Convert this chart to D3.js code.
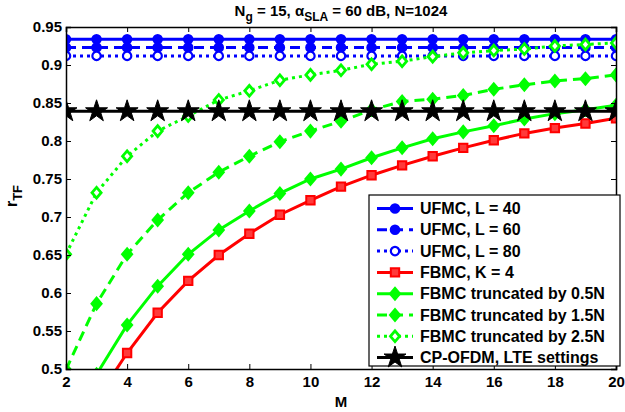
<!DOCTYPE html>
<html>
<head>
<meta charset="utf-8">
<script src="https://cdn.jsdelivr.net/npm/d3@7"></script>
<style>
  body { margin: 0; background: #fff; }
  text { font-family: "Liberation Sans", Arial, sans-serif; font-weight: bold; }
</style>
</head>
<body>
<div id="chart"></div>
<script>
// x values
const M = d3.range(2, 21);

// series values
const ufmc40 = M.map(() => 0.934);
const ufmc60 = M.map(() => 0.923);
const ufmc80 = M.map(() => 0.912);
const cpofdm = M.map(() => 0.839);
const fbmcK4 = [0.38, 0.46, 0.521, 0.574, 0.616, 0.65, 0.678, 0.703, 0.722, 0.74, 0.755, 0.768, 0.78, 0.791, 0.801, 0.81, 0.817, 0.823, 0.83];
const trunc05 = [0.41, 0.493, 0.558, 0.609, 0.651, 0.683, 0.708, 0.731, 0.75, 0.763, 0.778, 0.791, 0.803, 0.812, 0.82, 0.829, 0.836, 0.841, 0.847];
const trunc15 = [0.499, 0.586, 0.651, 0.696, 0.732, 0.759, 0.78, 0.799, 0.813, 0.826, 0.841, 0.852, 0.855, 0.86, 0.868, 0.874, 0.879, 0.882, 0.887];
const trunc25 = [0.651, 0.732, 0.78, 0.813, 0.833, 0.854, 0.866, 0.88, 0.887, 0.893, 0.901, 0.905, 0.911, 0.916, 0.919, 0.921, 0.925, 0.927, 0.929];

const xTicks = [2, 4, 6, 8, 10, 12, 14, 16, 18, 20];
const yTicks = [0.5, 0.55, 0.6, 0.65, 0.7, 0.75, 0.8, 0.85, 0.9, 0.95];

const series = [
  { name: "UFMC, L = 40", values: ufmc40, color: "#0000ff", dash: null, marker: "circle", fill: "#0000ff" },
  { name: "UFMC, L = 60", values: ufmc60, color: "#0000ff", dash: "10,6", marker: "circle", fill: "#0000ff" },
  { name: "UFMC, L = 80", values: ufmc80, color: "#0000ff", dash: "3,4", marker: "circle", fill: "#fff" },
  { name: "FBMC, K = 4", values: fbmcK4, color: "#ff0000", dash: null, marker: "square", fill: "#ff3a3a" },
  { name: "FBMC truncated by 0.5N", values: trunc05, color: "#00ff00", dash: null, marker: "diamond", fill: "#00ff00" },
  { name: "FBMC truncated by 1.5N", values: trunc15, color: "#00ff00", dash: "10,6", marker: "diamond", fill: "#00ff00" },
  { name: "FBMC truncated by 2.5N", values: trunc25, color: "#00ff00", dash: "3,4", marker: "diamond", fill: "#fff" },
  { name: "CP-OFDM, LTE settings", values: cpofdm, color: "#000", dash: null, marker: "star", fill: "#000" },
];

const width = 625, height = 412;
const margin = { top: 27, right: 9, bottom: 43, left: 66 };

const x = d3.scaleLinear().domain([2, 20]).range([margin.left, width - margin.right]);
const y = d3.scaleLinear().domain([0.5, 0.95]).range([height - margin.bottom, margin.top]);

const svg = d3.select("#chart").append("svg")
  .attr("width", width)
  .attr("height", height);

svg.append("clipPath").attr("id", "clip")
  .append("rect")
  .attr("x", margin.left).attr("y", margin.top)
  .attr("width", x(20) - x(2)).attr("height", y(0.5) - y(0.95));

// matlab-ish wide diamond
const wideDiamond = {
  draw(ctx, size) {
    const h = Math.sqrt(size) / 2;
    const w = h * 0.85;
    ctx.moveTo(0, -h);
    ctx.lineTo(w, 0);
    ctx.lineTo(0, h);
    ctx.lineTo(-w, 0);
    ctx.closePath();
  },
};

const symbols = {
  circle: d3.symbol().type(d3.symbolCircle).size(55),
  square: d3.symbol().type(d3.symbolSquare).size(70),
  diamond: d3.symbol().type(wideDiamond).size(115),
  star: d3.symbol().type(d3.symbolStar).size(150),
};
const markerStroke = { circle: 2.2, square: 2, diamond: 2.8, star: 1 };

const line = d3.line().x((d, i) => x(M[i])).y((d) => y(d));

const plot = svg.append("g").attr("clip-path", "url(#clip)");

series.forEach((s) => {
  plot.append("path")
    .datum(s.values)
    .attr("fill", "none")
    .attr("stroke", s.color)
    .attr("stroke-width", 3)
    .attr("stroke-dasharray", s.dash)
    .attr("d", line);

  plot.selectAll(null)
    .data(s.values)
    .enter()
    .append("path")
    .attr("transform", (d, i) => `translate(${x(M[i])},${y(d)})`)
    .attr("d", symbols[s.marker])
    .attr("fill", s.fill)
    .attr("stroke", s.color)
    .attr("stroke-width", markerStroke[s.marker]);
});

// axes (ticks inside, like the original)
const xAxis = d3.axisBottom(x).tickValues(xTicks).tickSize(-5).tickPadding(7).tickFormat(d3.format("d"));
const yAxis = d3.axisLeft(y).tickValues(yTicks).tickSize(-5).tickPadding(4).tickFormat((d) => String(+d.toFixed(2)));

const gx = svg.append("g")
  .attr("transform", `translate(0,${y(0.5)})`)
  .call(xAxis);
const gy = svg.append("g")
  .attr("transform", `translate(${x(2)},0)`)
  .call(yAxis);

svg.append("g")
  .attr("transform", `translate(0,${y(0.95)})`)
  .call(d3.axisTop(x).tickValues(xTicks).tickSize(-5).tickFormat(""));
svg.append("g")
  .attr("transform", `translate(${x(20)},0)`)
  .call(d3.axisRight(y).tickValues(yTicks).tickSize(-5).tickFormat(""));

svg.selectAll(".domain").attr("stroke", "#000").attr("stroke-width", 1.5);
svg.selectAll(".tick line").attr("stroke", "#000");
gx.selectAll("text").attr("font-size", 15).attr("fill", "#000");
gy.selectAll("text").attr("font-size", 15).attr("fill", "#000");

// title
const title = svg.append("text")
  .attr("x", 341).attr("y", 16)
  .attr("text-anchor", "middle")
  .attr("font-size", 15);
title.append("tspan").text("N");
title.append("tspan").attr("dy", 5).attr("font-size", 12).text("g");
title.append("tspan").attr("dy", -5).text(" = 15, α");
title.append("tspan").attr("dy", 5).attr("font-size", 12).text("SLA");
title.append("tspan").attr("dy", -5).text(" = 60 dB, N=1024");

// axis labels
svg.append("text")
  .attr("x", 341).attr("y", 407)
  .attr("text-anchor", "middle")
  .attr("font-size", 15)
  .text("M");

const yl = svg.append("text")
  .attr("transform", "translate(17,196) rotate(-90)")
  .attr("text-anchor", "middle")
  .attr("font-size", 16);
yl.append("tspan").text("r");
yl.append("tspan").attr("dy", 5).attr("font-size", 13).text("TF");

// legend
const lg = svg.append("g");
lg.append("rect")
  .attr("x", 369).attr("y", 195)
  .attr("width", 251).attr("height", 171)
  .attr("fill", "#fff")
  .attr("stroke", "#000")
  .attr("stroke-width", 1.2);

series.forEach((s, i) => {
  const cy = 208.5 + i * 21.3;
  lg.append("line")
    .attr("x1", 377).attr("x2", 413)
    .attr("y1", cy).attr("y2", cy)
    .attr("stroke", s.color)
    .attr("stroke-width", 3)
    .attr("stroke-dasharray", s.dash);
  lg.append("path")
    .attr("transform", `translate(395,${cy})`)
    .attr("d", symbols[s.marker])
    .attr("fill", s.fill)
    .attr("stroke", s.color)
    .attr("stroke-width", markerStroke[s.marker]);
  lg.append("text")
    .attr("x", 420).attr("y", cy + 5.5)
    .attr("font-size", 16)
    .text(s.name);
});
</script>
</body>
</html>
